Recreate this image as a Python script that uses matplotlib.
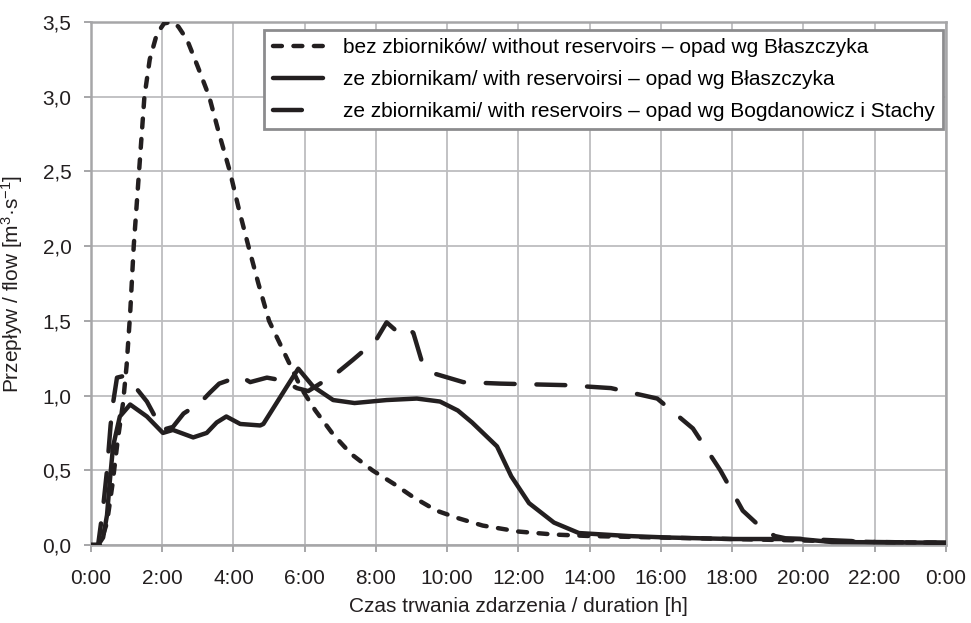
import matplotlib
matplotlib.use("Agg")
import matplotlib.pyplot as plt
import numpy as np

plt.rcParams['font.family'] = ['Liberation Sans', 'DejaVu Sans']
plt.rcParams['mathtext.fontset'] = 'custom'
plt.rcParams['mathtext.rm'] = 'Liberation Sans'
plt.rcParams['mathtext.it'] = 'Liberation Sans'

# time in hours, flow in m3/s
t_bez = [0, 0.25, 0.45, 0.6, 0.75, 0.9, 1.0, 1.1, 1.2, 1.35, 1.5, 1.65, 1.85, 2.05, 2.25,
         2.45, 2.7, 3.0, 3.32, 3.6, 3.9, 4.15, 4.42, 4.7, 5.0, 5.5, 5.9, 6.3, 6.8, 7.3,
         7.9, 8.5, 9.05, 9.7, 10.3, 11.0, 12.0, 13.0, 14.0, 16.0, 18.0, 20.0, 22.0, 24.0]
q_bez = [0, 0.0, 0.15, 0.4, 0.7, 0.95, 1.2, 1.55, 2.0, 2.5, 3.0, 3.25, 3.42, 3.49, 3.5,
         3.47, 3.38, 3.2, 3.0, 2.75, 2.5, 2.25, 2.0, 1.75, 1.5, 1.25, 1.05, 0.9, 0.74, 0.61,
         0.5, 0.41, 0.32, 0.23, 0.18, 0.13, 0.09, 0.07, 0.06, 0.05, 0.04, 0.03, 0.02, 0.015]

t_ze = [0, 0.2, 0.34, 0.45, 0.53, 0.62, 0.81, 1.1, 1.57, 2.02, 2.3, 2.87, 3.25, 3.53,
        3.8, 4.19, 4.75, 4.84, 5.5, 5.82, 6.24, 6.8, 7.4, 8.3, 9.15, 9.8, 10.3, 10.7,
        11.4, 11.8, 12.3, 13.0, 13.7, 15.1, 16.2, 18.0, 19.9, 20.8, 24.0]
q_ze = [0, 0, 0.05, 0.2, 0.43, 0.66, 0.86, 0.94, 0.86, 0.75, 0.77, 0.72, 0.75, 0.82,
        0.86, 0.81, 0.80, 0.81, 1.06, 1.18, 1.06, 0.97, 0.95, 0.97, 0.98, 0.96, 0.9, 0.82,
        0.66, 0.46, 0.28, 0.15, 0.08, 0.06, 0.05, 0.04, 0.04, 0.02, 0.015]

t_bs = [0, 0.2, 0.34, 0.45, 0.55, 0.62, 0.73, 0.9, 1.1, 1.57, 2.0, 2.3, 2.6, 3.06, 3.34,
        3.6, 4.19, 4.47, 4.94, 5.4, 5.78, 6.1, 6.9, 7.36, 8.0, 8.3, 8.54, 8.77, 9.05, 9.3,
        9.6, 10.45, 11.5, 13.3, 14.6, 15.9, 16.9, 17.67, 18.3, 18.8, 19.2, 19.5, 20.0,
        22.0, 24.0]
q_bs = [0, 0.0, 0.25, 0.5, 0.8, 0.95, 1.12, 1.13, 1.1, 0.96, 0.77, 0.79, 0.88, 0.95, 1.02,
        1.08, 1.13, 1.09, 1.12, 1.1, 1.05, 1.03, 1.15, 1.24, 1.37, 1.49, 1.44, 1.47, 1.42, 1.22,
        1.15, 1.09, 1.08, 1.07, 1.05, 0.98, 0.78, 0.5, 0.23, 0.12, 0.06, 0.045, 0.04,
        0.02, 0.015]

labels = ["bez zbiorników/ without reservoirs – opad wg Błaszczyka",
          "ze zbiornikam/ with reservoirsi – opad wg Błaszczyka",
          "ze zbiornikami/ with reservoirs – opad wg Bogdanowicz i Stachy"]

xticks = list(range(0, 25, 2))
xlabels = ["%d:00" % (h % 24) for h in xticks]
yticks = np.arange(0, 3.51, 0.5)
ylabels = [("%.1f" % v).replace(".", ",") for v in yticks]

fs = 15
fig = plt.figure(figsize=(9.71, 6.23), dpi=100)
ax = fig.add_axes([0.0937, 0.1252, 0.8803, 0.8395])

col = '#231f20'
lw = 3.2
ax.plot(t_bez, q_bez, color=col, lw=lw, dashes=(2.0, 2.6), dash_capstyle='round',
        label=labels[0], zorder=3)
ax.plot(t_ze, q_ze, color=col, lw=lw, solid_capstyle='round', solid_joinstyle='round',
        label=labels[1], zorder=3)
ax.plot(t_bs, q_bs, color=col, lw=lw, dashes=(6.5, 4.9), dash_capstyle='round',
        label=labels[2], zorder=3)

ax.set_xlim(0, 24)
ax.set_ylim(0, 3.5)
ax.set_xticks(xticks)
ax.set_xticklabels(xlabels)
ax.set_yticks(yticks)
ax.set_yticklabels(ylabels)
ax.grid(True, color='#bdbdbf', lw=1.3, zorder=0)
for s in ax.spines.values():
    s.set_color('#a6a6a8')
    s.set_linewidth(1.8)
ax.tick_params(colors='#a6a6a8', labelcolor='#231f20', labelsize=fs, length=5, width=1.4)
ax.tick_params(axis='x', pad=12)
ax.tick_params(axis='y', pad=9)

ax.set_xlabel("Czas trwania zdarzenia / duration [h]", fontsize=fs, color=col)
ax.set_ylabel(r"Przepływ / flow [m$^3$·s$^{-1}$]", fontsize=fs, color=col)
ax.xaxis.set_label_coords(0.5, -0.099)
ax.yaxis.set_label_coords(-0.077, 0.5)

leg = ax.legend(loc='upper right', bbox_to_anchor=(0.9965, 0.9847), fontsize=fs,
                fancybox=False, framealpha=1, edgecolor='#8c8c8e', handlelength=2.4,
                handletextpad=0.95, borderpad=0.4, labelspacing=0.62, borderaxespad=0)
leg.get_frame().set_linewidth(2)

fig.savefig("out.png", dpi=100)
